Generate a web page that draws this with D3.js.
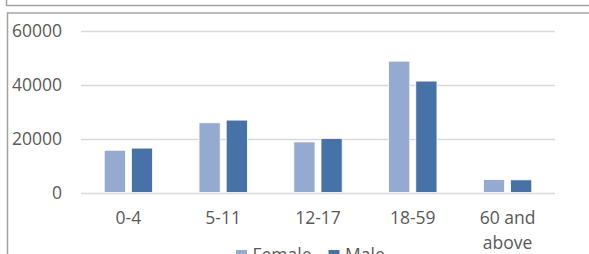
<!DOCTYPE html>
<html>
<head>
<meta charset="utf-8">
<script src="https://cdnjs.cloudflare.com/ajax/libs/d3/7.8.5/d3.min.js"></script>
<style>
  body { margin: 0; background: #fff; }
  text { font-family: 'Open Sans', sans-serif; fill: #595959; }
</style>
</head>
<body>
<svg id="chart" width="589" height="254"></svg>
<script>
// data
var categories = ['0-4', '5-11', '12-17', '18-59', '60 and above']
var series = ['Female', 'Male']
var female_values = [15700, 25900, 18800, 48800, 4800]
var male_values = [16500, 26900, 20100, 41400, 4700]
var y_ticks = [0, 20000, 40000, 60000]

var colors = { 'Female': '#95aad1', 'Male': '#4672a7' }

var svg = d3.select('#chart')

// frames (cell borders around the chart)
svg.append('path')
  .attr('d', 'M6.5,0V5.5H589')
  .attr('fill', 'none')
  .attr('stroke', '#a3a3a3')
  .attr('stroke-width', 1.5)
svg.append('path')
  .attr('d', 'M7.5,254V13H589')
  .attr('fill', 'none')
  .attr('stroke', '#a3a3a3')
  .attr('stroke-width', 1.5)

// scales
var x0 = d3.scaleBand()
  .domain(categories)
  .range([81, 555])
  .paddingInner(0.49)
  .paddingOuter(0.245)

var x1 = d3.scaleBand()
  .domain(series)
  .range([0, x0.bandwidth()])
  .paddingInner(0.22)

var y = d3.scaleLinear()
  .domain([0, 60000])
  .range([192.5, 31])

// gridlines
svg.append('g')
  .selectAll('line')
  .data(y_ticks)
  .join('line')
  .attr('x1', 81)
  .attr('x2', 555)
  .attr('y1', d => Math.round(y(d)) + 0.5)
  .attr('y2', d => Math.round(y(d)) + 0.5)
  .attr('stroke', '#d9d9d9')
  .attr('stroke-width', 1.3)

// y tick labels
svg.append('g')
  .selectAll('text')
  .data(y_ticks)
  .join('text')
  .attr('x', 62)
  .attr('y', d => y(d))
  .attr('dy', '0.36em')
  .attr('text-anchor', 'end')
  .style('font-size', '17.5px')
  .text(d => d)

// bars
var rows = categories.map((c, i) => ({ cat: c, Female: female_values[i], Male: male_values[i] }))

var groups = svg.append('g')
  .selectAll('g')
  .data(rows)
  .join('g')
  .attr('transform', d => 'translate(' + x0(d.cat) + ',0)')

groups.selectAll('rect')
  .data(d => series.map(s => ({ key: s, value: d[s] })))
  .join('rect')
  .attr('x', d => x1(d.key))
  .attr('width', x1.bandwidth())
  .attr('y', d => y(d.value))
  .attr('height', d => y(0) - y(d.value))
  .attr('fill', d => colors[d.key])
  .attr('stroke', '#ffffff')
  .attr('stroke-width', 0.8)

// x labels (wrapped like excel)
var xlab = svg.append('g')
  .selectAll('text')
  .data(categories)
  .join('text')
  .attr('text-anchor', 'middle')
  .attr('y', 224)
  .style('font-size', '17.5px')

xlab.each(function(d) {
  var lines = d == '60 and above' ? ['60 and', 'above'] : [d]
  var cx = x0(d) + x0.bandwidth() / 2
  d3.select(this).selectAll('tspan')
    .data(lines)
    .join('tspan')
    .attr('x', cx)
    .attr('dy', (l, i) => i == 0 ? 0 : 25)
    .text(l => l)
})

// legend
var legend_x = [236, 328.5]
var leg = svg.append('g')
  .selectAll('g')
  .data(series)
  .join('g')
  .attr('transform', (d, i) => 'translate(' + legend_x[i] + ',250)')

leg.append('rect')
  .attr('width', 11)
  .attr('height', 11)
  .attr('fill', d => colors[d])

leg.append('text')
  .attr('x', 16.5)
  .attr('y', 10.5)
  .style('font-size', '17.5px')
  .text(d => d)
</script>
</body>
</html>
